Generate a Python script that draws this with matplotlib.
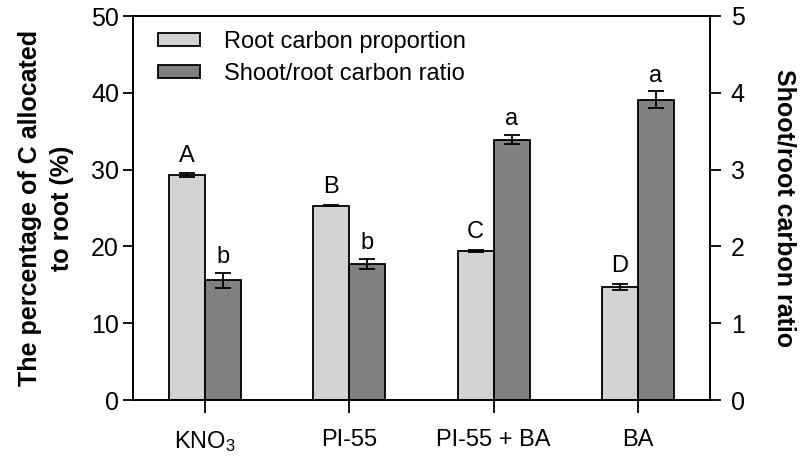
import numpy as np
import matplotlib
matplotlib.use("Agg")
import matplotlib.pyplot as plt
from matplotlib.patches import Patch

plt.rcParams["font.family"] = ["Liberation Sans", "DejaVu Sans"]
plt.rcParams["mathtext.fontset"] = "custom"
plt.rcParams["mathtext.rm"] = "Liberation Sans"
plt.rcParams["mathtext.it"] = "Liberation Sans"

treatments = ["KNO$_3$", "PI-55", "PI-55 + BA", "BA"]
root_pct = [29.3, 25.3, 19.4, 14.7]
root_err = [0.2, 0.1, 0.15, 0.4]
root_letters = ["A", "B", "C", "D"]
ratio = [1.56, 1.77, 3.39, 3.91]
ratio_err = [0.10, 0.07, 0.06, 0.11]
ratio_letters = ["b", "b", "a", "a"]

x = np.arange(len(treatments))
w = 0.25

fig = plt.figure(figsize=(8.06, 4.59), dpi=100)
ax = fig.add_axes([133 / 806, 1 - 400 / 459, 577 / 806, 384 / 459])
ax2 = ax.twinx()

ax.bar(x - w / 2, root_pct, w, color="#d3d3d3", edgecolor="black", linewidth=1.3,
       yerr=root_err, capsize=6, error_kw=dict(elinewidth=1.3, capthick=1.3))
ax2.bar(x + w / 2, ratio, w, color="#808080", edgecolor="black", linewidth=1.3,
        yerr=ratio_err, capsize=6, error_kw=dict(elinewidth=1.3, capthick=1.3))

for xi, v, e, t in zip(x, root_pct, root_err, root_letters):
    ax.text(xi - w / 2, v + e + 0.9, t, ha="center", va="bottom", fontsize=17)
for xi, v, e, t in zip(x, ratio, ratio_err, ratio_letters):
    ax2.text(xi + w / 2, v + e + 0.06, t, ha="center", va="bottom", fontsize=17)

ax.set_xlim(-0.5, 3.5)
ax.set_ylim(0, 50)
ax2.set_ylim(0, 5)
ax.set_yticks(range(0, 51, 10))
ax2.set_yticks(range(0, 6))
ax.set_xticks(x)
ax.set_xticklabels(treatments, fontsize=17)

ax.tick_params(axis="y", direction="out", length=7, width=1.3, labelsize=18, pad=3)
ax2.tick_params(axis="y", direction="out", length=8, width=1.3, labelsize=18, pad=7)
ax.tick_params(axis="x", direction="out", length=9, width=1.3, pad=12)
for a in (ax, ax2):
    for s in a.spines.values():
        s.set_linewidth(1.3)

ax.set_ylabel("The percentage of C allocated\nto root (%)", fontsize=18,
              fontweight="bold", labelpad=12, linespacing=1.45)
ax2.set_ylabel("Shoot/root carbon ratio", fontsize=18, fontweight="bold",
               rotation=270, labelpad=37)

handles = [Patch(facecolor="#d3d3d3", edgecolor="black", linewidth=1.3),
           Patch(facecolor="#808080", edgecolor="black", linewidth=1.3)]
ax.legend(handles, ["Root carbon proportion", "Shoot/root carbon ratio"],
          loc="upper left", bbox_to_anchor=(0.027, 0.985), borderaxespad=0,
          frameon=False, fontsize=17, handlelength=1.78, handleheight=0.47,
          handletextpad=1.0, labelspacing=0.42)

fig.savefig("out.png", dpi=100)
